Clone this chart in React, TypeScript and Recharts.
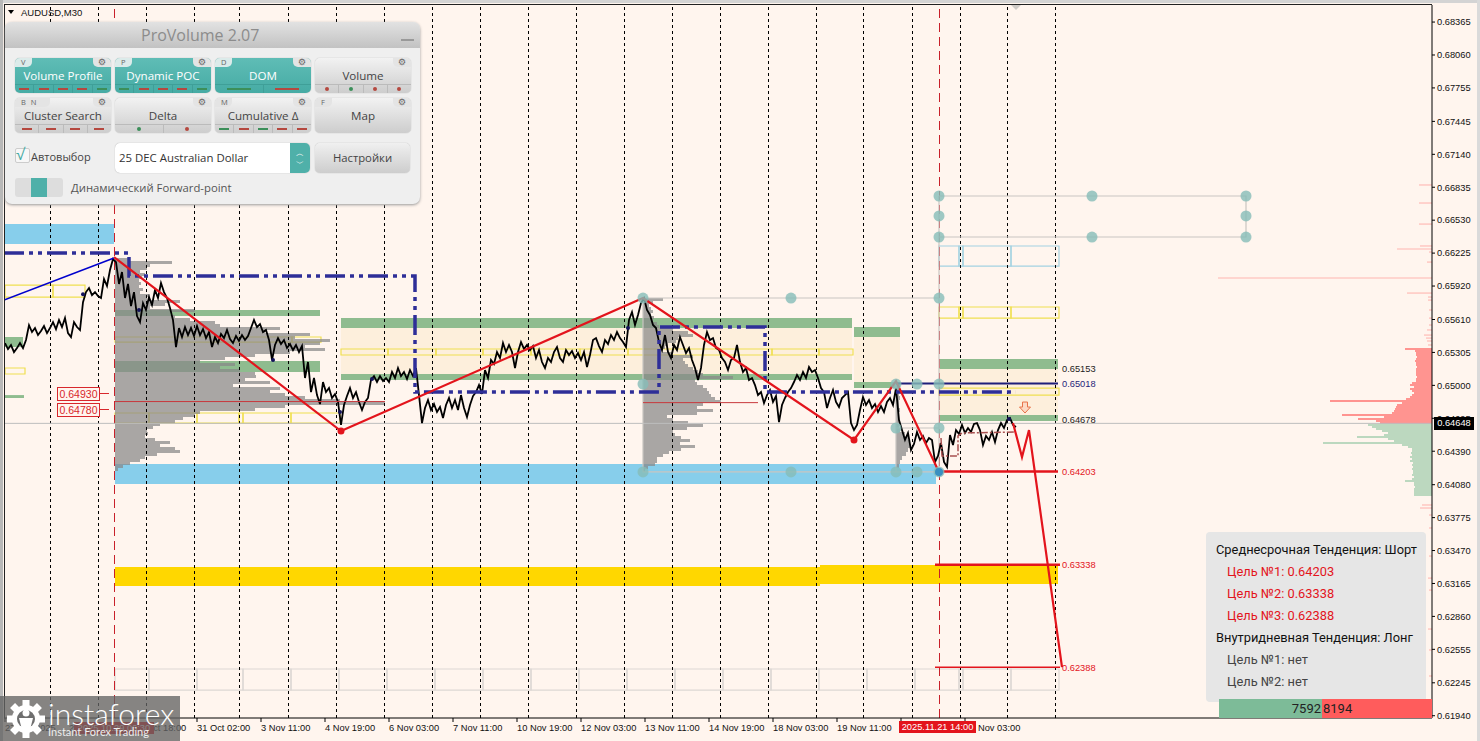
import React from "react";
import { ComposedChart, Line, XAxis, YAxis, ReferenceArea, ReferenceLine, ReferenceDot } from "recharts";

// everything is in bars (x) and price points, 1 point = 0.00001 (y)
const priceTicks = [68365, 68060, 67755, 67445, 67140, 66835, 66530, 66225, 65920, 65610, 65305, 65000, 64695, 64390, 64080, 63775, 63470, 63165, 62860, 62555, 62245, 61940];
const timeBars = [5, 69, 133, 197, 261, 325, 389, 453, 517, 581, 645, 709, 773, 837, 901, 965];
const timeLabels = ["27 Oct 2025", "28 Oct 10:00", "29 Oct 18:00", "31 Oct 02:00", "3 Nov 11:00", "4 Nov 19:00", "6 Nov 03:00", "7 Nov 11:00", "10 Nov 19:00", "12 Nov 03:00", "13 Nov 11:00", "14 Nov 19:00", "18 Nov 03:00", "19 Nov 11:00", "20 Nov 19:00", "24 Nov 03:00"];
const sessionBars = [50, 98, 146, 194, 239, 288, 336, 384, 432, 480, 528, 576, 624, 672, 720, 768, 816, 863, 912, 960, 1007, 1055];
const anchorBars = [114, 939];

// M30 closes, one value every 3 bars from bar 5
const closes = [
  65392, 65336, 65373, 65308, 65345, 65392, 65345, 65420, 65558, 65494, 65531, 65466, 65503, 65549, 65484, 65531,
  65586, 65521, 65605, 65540, 65623, 65484, 65447, 65586, 65540, 65512, 65771, 65864, 65901, 65836, 65864, 65827,
  65809, 65985, 65920, 66068, 66170, 66142, 65939, 66050, 65809, 65939, 65735, 65864, 65642, 65586, 65762, 65698,
  65818, 65744, 65883, 65809, 65948, 65864, 65809, 65716, 65605, 65355, 65531, 65448, 65540, 65466, 65531, 65457,
  65550, 65466, 65522, 65438, 65494, 65355, 65448, 65392, 65476, 65438, 65513, 65429, 65392, 65457, 65411, 65466,
  65420, 65457, 65531, 65605, 65540, 65568, 65494, 65513, 65420, 65235, 65374, 65438, 65383, 65420, 65346, 65383,
  65327, 65374, 65309, 65364, 65068, 65216, 64938, 65068, 64910, 64827, 65031, 64938, 64975, 64883, 64920, 64846,
  64633, 64818, 64901, 64975, 64883, 64938, 64846, 64772, 64846, 64883, 65050, 65086, 65031, 65086, 65040, 65068,
  65031, 65124, 65068, 65161, 65086, 65124, 65059, 65142, 65086, 65161, 64910, 64651, 64790, 64864, 64772, 64827,
  64753, 64799, 64697, 64818, 64883, 64790, 64864, 64772, 64910, 64790, 64707, 64818, 64901, 64938, 65003, 64920,
  65142, 65068, 65235, 65198, 65309, 65253, 65392, 65309, 65374, 65309, 65161, 65309, 65401, 65337, 65374, 65327,
  65364, 65253, 65327, 65216, 65161, 65253, 65216, 65309, 65355, 65253, 65216, 65327, 65281, 65318, 65253, 65299,
  65235, 65309, 65170, 65281, 65420, 65438, 65364, 65309, 65420, 65383, 65466, 65420, 65494, 65438, 65401, 65355,
  65605, 65679, 65559, 65652, 65763, 65809, 65698, 65652, 65559, 65531, 65401, 65327, 65466, 65309, 65253, 65374,
  65327, 65448, 65374, 65299, 65346, 65235, 65161, 65050, 65161, 65374, 65494, 65420, 65438, 65346, 65327, 65253,
  65216, 65142, 65235, 65253, 65374, 65216, 65124, 65161, 65050, 65068, 65003, 64910, 64938, 64836, 64910, 64957,
  64846, 64901, 64660, 64818, 64883, 64938, 64975, 65031, 65096, 65050, 65124, 65068, 65170, 65124, 65142, 65068,
  64975, 64938, 64790, 64883, 64957, 64846, 64799, 64883, 64910, 64938, 64651, 64586, 64633, 64772, 64892, 64818,
  64864, 64790, 64827, 64753, 64809, 64753, 64846, 64883, 64818, 64975, 64679, 64586, 64494, 64559, 64401, 64457,
  64568, 64494, 64531, 64466, 64512, 64494, 64290, 64346, 64466, 64290, 64244, 64540, 64447, 64586, 64549, 64633,
  64559, 64605, 64568, 64642, 64651, 64586, 64447, 64531, 64494, 64568, 64475, 64586, 64651, 64605, 64679, 64697, 64633, 64614,
];

const zigzag = [[114, 66188], [341, 64577], [643, 65809], [854, 64494], [896, 65040], [939, 64198]];
const forecast = [[1013, 64651], [1022, 64336], [1029, 64586], [1062, 62391]];
const trendLine = [[4, 65790], [114, 66180]];
const pocPath = [[4, 66226], [129, 66226], [129, 66013], [415, 66013], [415, 64938], [659, 64938], [659, 65540], [765, 65540], [765, 64938], [1016, 64938]];
const intradayPath = [[941, 64512], [942, 64345], [958, 64345], [958, 64531], [962, 64559], [1015, 64568]];

const guideSets = [
  [[939, 66754], [1246, 66754], [1246, 66374], [939, 66374]],
  [[939, 66754], [939, 64198]],
  [[643, 65809], [939, 65809]],
  [[643, 65809], [643, 64198], [939, 64198]],
  [[896, 65012], [896, 64198]],
  [[896, 64605], [939, 64605]],
];
const guideDots = [[939, 66754], [1092, 66754], [1246, 66754], [939, 66569], [1246, 66569], [939, 66374], [1092, 66374], [1246, 66374], [643, 65809], [791, 65809], [939, 65809], [643, 65012], [896, 65012], [917, 65012], [939, 65012], [896, 64605], [939, 64605], [643, 64198], [791, 64198], [896, 64198], [917, 64198], [939, 64198]];
const swingDots = [[83, 65845], [139, 65698], [273, 65235], [340, 64753], [372, 65059], [628, 65531], [1009, 64688]];
const pivotDots = [[341, 64577], [854, 64494]];

// bar1, bar2, price top, price bottom
const blueZones = [[4, 114, 66494, 66309], [115, 936, 64271, 64086]];
const goldZones = [[115, 820, 63317, 63141], [820, 1058, 63336, 63160]];
const greenZones = [[115, 320, 65698, 65642], [115, 320, 65225, 65124], [5, 23, 65448, 65355], [5, 24, 64910, 64883], [341, 852, 65623, 65531], [341, 852, 65105, 65050], [854, 900, 65540, 65448], [854, 900, 65031, 64975], [939, 1058, 65244, 65151], [939, 1058, 64725, 64670]];
const tanZones = [[341, 852, 65531, 65105], [854, 900, 65448, 65031], [939, 1058, 65151, 64725]];

// outlined box rows: divider bars, then price top/bottom
const greyRowBars = [115, 149, 197, 243, 291, 339, 387, 435, 483, 531, 579, 627, 675, 723, 771, 819, 867, 915, 959, 963, 1011, 1059];
const greyRowPrices = [62373, 62178];
const blueRowBars = [939, 959, 963, 1011, 1059];
const blueRowPrices = [66291, 66105];
const yellowTopBars = [939, 959, 963, 1011, 1059];
const yellowTopPrices = [65726, 65623];
const yellowMidBars = [341, 388, 436, 483, 531, 580, 628, 772, 819, 853];
const yellowMidPrices = [65337, 65281];
const yellowLowBars = [115, 149, 197, 239, 243, 291, 340];
const yellowLowPrices = [64744, 64651];
const yellowLeftBars = [5, 53, 85];
const yellowLeftPrices = [65929, 65818];
const yellowStubBars = [5, 25];
const yellowStubPrices = [65161, 65105];
const yellowUpperBars = [115, 292, 321];
const yellowUpperPrices = [65448, 65401];
const yellowRightBars = [939, 1059];
const yellowRightPrices = [64975, 64910];

// horizontal volume profiles, widths in bars, listed from the top row down
const profileOneVol = [15, 57, 35, 32, 25, 30, 27, 24, 26, 24, 28, 25, 35, 32, 65, 50, 35, 80, 55, 60, 75, 100, 105, 165, 150, 195, 180, 215, 205, 190, 210, 175, 140, 110, 85, 120, 105, 125, 140, 141, 130, 155, 118, 165, 155, 170, 190, 225, 270, 170, 140, 85, 80, 68, 60, 45, 38, 32, 33, 30, 40, 55, 45, 60, 65, 42, 30, 25, 15, 8, 3];
const profileTwoVol = [20, 10, 6, 8, 10, 8, 11, 10, 14, 16, 30, 45, 50, 35, 33, 25, 22, 20, 30, 50, 40, 42, 45, 50, 55, 60, 90, 52, 54, 60, 64, 66, 68, 72, 78, 60, 54, 70, 54, 24, 30, 45, 60, 44, 30, 32, 38, 47, 37, 52, 38, 26, 20, 14, 14, 12, 5, 2];
const profileThreeVol = [3, 4, 3, 4, 3, 3, 4, 3, 3, 4, 3, 4, 9, 12, 13, 15, 12, 10, 6, 4, 3];
const domAskVol = [27, 17, 16, 16, 15, 16, 17, 16, 16, 15, 16, 16, 16, 16, 15, 16, 16, 20, 22, 18, 22, 20, 18, 20, 22, 26, 102, 30, 35, 36, 37, 38, 40, 90, 48, 74, 56, 52];
const domBidVol = [64, 60, 56, 50, 44, 48, 75, 44, 38, 109, 30, 24, 20, 20, 21, 20, 22, 20, 22, 19, 20, 19, 20, 19, 19, 20, 18, 20, 27, 18, 18, 17, 18, 18, 18, 18];
const domSpikePrices = [66856, 66689, 66494, 66291, 66263, 66235, 66142, 65994, 65855, 65818, 65790, 65698, 65623, 65559, 65513, 65466, 65438, 65411, 65374, 63892, 63864, 63799, 63679, 63419, 63215, 63104, 62743, 62549, 62308];
const domSpikeVol = [13, 13, 13, 12, 35, 3, 5, 214, 25, 4, 4, 3, 3, 3, 5, 8, 6, 5, 4, 10, 12, 3, 3, 3, 4, 3, 4, 3, 3];

const levelLines = [[939, 1058, 64203, 2.5, "#E3141C"], [935, 1060, 63338, 2.5, "#E3141C"], [935, 1060, 62388, 1.5, "#E3141C"], [896, 1058, 65018, 2, "#1F1F7A"], [115, 385, 64850, 1, "#C8383C"], [643, 758, 64840, 1, "#C8383C"]];
const levelTags = [[65153, "#222222"], [65018, "#1F1F7A"], [64678, "#222222"], [64203, "#E3141C"], [63338, "#E3141C"], [62388, "#E3141C"]];

const buttonNames = ["Volume Profile", "Dynamic POC", "DOM", "Volume", "Cluster Search", "Delta", "Cumulative Δ", "Map"];
const buttonKeys = ["V", "P", "D", "", "B N", "", "M", "F"];
const buttonMarks = ["rrrrg", "grrrg", "gr", ".r.g.r.r", "rrrr", ".g.r", "grgrr", ""];
const goalLines = ["Цель №1: 0.64203", "Цель №2: 0.63338", "Цель №3: 0.62388"];
const noGoalLines = ["Цель №1: нет", "Цель №2: нет"];

const chartFont = "'Liberation Sans', Arial, sans-serif";
const uiFont = "'Open Sans', sans-serif";
const boxFont = "Roboto, sans-serif";
const toPts = (list: number[][]) => list.map(([x, p]) => ({ x, p }));
const closeData = closes.map((p, i) => ({ x: 5 + i * 3, p }));

function zone(list: number[][], fill: string, name: string) {
  return list.map((z, i) => (
    <ReferenceArea key={name + i} x1={z[0]} x2={z[1]} y1={z[2]} y2={z[3]} fill={fill} fillOpacity={1} stroke="none" />
  ));
}

function boxRow(bars: number[], prices: number[], color: string, name: string) {
  return bars.slice(0, -1).map((b, i) => (
    <ReferenceArea key={name + i} x1={b} x2={bars[i + 1]} y1={prices[0]} y2={prices[1]} fill="none" fillOpacity={0} stroke={color} strokeWidth={1.2} />
  ));
}

function profile(vols: number[], start: number, top: number, step: number, fill: string, name: string, opacity = 1) {
  return vols.map((v, i) => (
    <ReferenceArea key={name + i} x1={start} x2={start + v} y1={top - i * step} y2={top - (i + 1) * step} fill={fill} fillOpacity={opacity} stroke="none" shapeRendering="crispEdges" />
  ));
}

function dom(vols: number[], top: number, step: number, fill: string, name: string) {
  return vols.map((v, i) => (
    <ReferenceArea key={name + i} x1={1432 - v} x2={1432} y1={top - i * step} y2={top - (i + 1) * step} fill={fill} fillOpacity={1} stroke="none" shapeRendering="crispEdges" />
  ));
}

function TimeTick(props: any) {
  const { x, y, payload } = props;
  const label = timeLabels[timeBars.indexOf(payload.value)];
  return (
    <g>
      <line x1={x} x2={x} y1={y - 8} y2={y - 4} stroke="#000" />
      <text x={x} y={y + 5} fontSize={9.3} fontFamily={chartFont} fill="#111">{label}</text>
    </g>
  );
}

function ArrowDown(props: any) {
  const { cx, cy } = props;
  return (
    <path d={`M${cx - 2.5} ${cy - 6} h5 v5 h3 l-5.5 6 l-5.5 -6 h3 z`} fill="#FCD9C4" stroke="#E8734A" strokeWidth={1} />
  );
}

function PanelButton({ index, left, top }: { index: number; left: number; top: number }) {
  const active = index < 3;
  const marks = buttonMarks[index];
  const dots = marks.startsWith(".");
  const items = dots ? marks.split(".").filter(Boolean) : marks.split("");
  const keyWide = buttonKeys[index].length > 1;
  return (
    <div style={{ position: "absolute", left, top, width: 96, height: 35, borderRadius: 5, overflow: "hidden", background: active ? "linear-gradient(#5FBDB6,#46ABA4)" : "linear-gradient(#F2F2F2,#CDCDCD)", boxShadow: "0 0 1px #999" }}>
      {buttonKeys[index] && (
        <div style={{ position: "absolute", left: 0, top: 0, width: keyWide ? 35 : 17, height: 9, background: active ? "#DCEBEA" : "#E4E4E4", borderRadius: "0 0 5px 0", fontSize: 7.5, lineHeight: "9px", color: "#666", paddingLeft: 6, boxSizing: "border-box", fontFamily: uiFont, wordSpacing: 3 }}>{buttonKeys[index]}</div>
      )}
      <div style={{ position: "absolute", right: 0, top: 0, width: 18, height: 9, background: "#E4E4E4", borderRadius: "0 0 0 5px", textAlign: "center", fontFamily: "'DejaVu Sans', sans-serif", fontSize: 9, lineHeight: "9px", color: "#666" }}>⚙</div>
      <div style={{ position: "absolute", left: 0, right: 0, top: 9, textAlign: "center", fontFamily: uiFont, fontSize: 11.6, lineHeight: "17px", color: active ? "#fff" : "#444" }}>{buttonNames[index]}</div>
      {items.length > 0 && (
        <div style={{ position: "absolute", left: 0, right: 0, bottom: 0, height: 8, display: "flex", borderTop: active ? "1px solid #3F9F98" : "1px solid #BBB" }}>
          {items.map((m, i) => (
            <div key={i} style={{ flex: 1, display: "flex", alignItems: "center", justifyContent: "center", borderLeft: i ? (active ? "1px solid #3F9F98" : "1px solid #BBB") : "none" }}>
              <div style={{ width: dots ? 4 : items.length === 2 ? 24 : 10, height: dots ? 4 : 1.5, borderRadius: dots ? 2 : 0, background: m === "g" ? "#3C8F5A" : "#B5483F" }} />
            </div>
          ))}
        </div>
      )}
    </div>
  );
}

function ControlPanel() {
  const lefts = [15, 115, 215, 315];
  return (
    <div style={{ position: "absolute", left: 5, top: 22, width: 415, height: 182, borderRadius: 7, background: "#EFEFEF", boxShadow: "0 1px 3px #999" }}>
      <div style={{ position: "absolute", left: 0, right: 0, top: 0, height: 26, borderRadius: "7px 7px 0 0", background: "linear-gradient(#E2E2E2,#C2C2C2)", fontFamily: uiFont, fontSize: 16, lineHeight: "27px", color: "#8C8C8C", paddingLeft: 136, boxSizing: "border-box" }}>ProVolume 2.07</div>
      <div style={{ position: "absolute", left: 396, top: 17, width: 13, height: 2, background: "#999" }} />
      <div style={{ position: "absolute", left: -5, top: -22 }}>
        {buttonNames.map((n, i) => (
          <PanelButton key={n} index={i} left={lefts[i % 4]} top={i < 4 ? 58 : 98} />
        ))}
        <div style={{ position: "absolute", left: 15, top: 148, width: 13, height: 13, background: "#F7F7F7", border: "1px solid #CCC", borderRadius: 2, color: "#46ABA4", fontSize: 16, lineHeight: "11px", fontFamily: uiFont }}>√</div>
        <div style={{ position: "absolute", left: 31, top: 149, fontFamily: uiFont, fontSize: 11, color: "#444", whiteSpace: "nowrap" }}>Автовыбор</div>
        <div style={{ position: "absolute", left: 115, top: 143, width: 195, height: 30, background: "#fff", borderRadius: 5, overflow: "hidden", boxShadow: "0 0 1px #999" }}>
          <div style={{ position: "absolute", left: 4, top: 7, fontFamily: uiFont, fontSize: 11.4, color: "#333", whiteSpace: "nowrap" }}>25 DEC Australian Dollar</div>
          <div style={{ position: "absolute", right: 0, top: 0, width: 20, height: 30, background: "#4FB0A9", color: "#fff", fontSize: 8, lineHeight: "10px", textAlign: "center", paddingTop: 5, boxSizing: "border-box", fontFamily: uiFont }}>︿<br />﹀</div>
        </div>
        <div style={{ position: "absolute", left: 315, top: 143, width: 95, height: 30, borderRadius: 5, background: "linear-gradient(#F0F0F0,#CDCDCD)", boxShadow: "0 0 1px #999", textAlign: "center", fontFamily: uiFont, fontSize: 11.3, lineHeight: "30px", color: "#444" }}>Настройки</div>
        <div style={{ position: "absolute", left: 15, top: 178, width: 48, height: 19, borderRadius: 3, background: "#DDD", overflow: "hidden" }}>
          <div style={{ position: "absolute", left: 16, top: 0, width: 16, height: 19, background: "#4FB0A9" }} />
        </div>
        <div style={{ position: "absolute", left: 71, top: 180, fontFamily: uiFont, fontSize: 11.3, color: "#555", whiteSpace: "nowrap" }}>Динамический Forward-point</div>
      </div>
    </div>
  );
}

function TrendBox() {
  const row = (text: string, top: number, left: number, color: string) => (
    <div key={text + top} style={{ position: "absolute", left, top, color, fontFamily: boxFont, fontSize: 12.85, lineHeight: "16px", whiteSpace: "nowrap" }}>{text}</div>
  );
  return (
    <div>
      <div style={{ position: "absolute", left: 1206, top: 532, width: 220, height: 170, background: "#E6E6E6", borderRadius: 4 }} />
      {row("Среднесрочная Тенденция: Шорт", 542, 1216, "#111")}
      {goalLines.map((t, i) => row(t, 564 + i * 22, 1227, "#E3141C"))}
      {row("Внутридневная Тенденция: Лонг", 630, 1216, "#111")}
      {noGoalLines.map((t, i) => row(t, 652 + i * 22, 1227, "#444"))}
      <div style={{ position: "absolute", left: 1219, top: 699, width: 103, height: 19, background: "#7DBB98", textAlign: "right", fontFamily: boxFont, fontSize: 13, lineHeight: "20px", color: "#222", paddingRight: 1, boxSizing: "border-box" }}>7592</div>
      <div style={{ position: "absolute", left: 1322, top: 699, width: 110, height: 19, background: "#FF5C5C", fontFamily: boxFont, fontSize: 13, lineHeight: "20px", color: "#222", paddingLeft: 1, boxSizing: "border-box" }}>8194</div>
    </div>
  );
}

function LeftTag({ text, top }: { text: string; top: number }) {
  return (
    <div>
      <div style={{ position: "absolute", left: 57, top, width: 41, height: 12, border: "1px solid #D8272C", color: "#D8272C", fontFamily: chartFont, fontSize: 10.5, lineHeight: "12px", textAlign: "center", background: "#FFF5EE" }}>{text}</div>
      <div style={{ position: "absolute", left: 99, top: top + 6, width: 10, height: 1, background: "#D8272C" }} />
    </div>
  );
}

function Watermark() {
  const teeth = [0, 45, 90, 135];
  return (
    <div style={{ position: "absolute", left: 0, top: 696, width: 180, height: 45, background: "rgba(100,100,100,0.78)" }}>
      <svg width={42} height={42} style={{ position: "absolute", left: 5, top: 2 }}>
        {teeth.map((a) => (
          <rect key={a} x={17.5} y={2} width={7} height={38} fill="#fff" transform={`rotate(${a} 21 21)`} />
        ))}
        <circle cx={21} cy={21} r={14} fill="#fff" />
        <circle cx={21} cy={21} r={9} fill="#6E6E6E" />
        <circle cx={21} cy={15} r={3.5} fill="#fff" />
        <path d="M14 20 L28 20 L24 36 L18 36 Z" fill="#fff" />
      </svg>
      <div style={{ position: "absolute", left: 48, top: -3, fontFamily: "Lato, sans-serif", fontWeight: 300, fontSize: 30, lineHeight: "40px", color: "#fff", whiteSpace: "nowrap" }}>instaforex</div>
      <div style={{ position: "absolute", left: 48, top: 29, fontFamily: "Lato, sans-serif", fontSize: 11, lineHeight: "14px", color: "#EEE", whiteSpace: "nowrap" }}>Instant Forex Trading</div>
    </div>
  );
}

export default function App() {
  return (
    <div style={{ position: "absolute", left: 0, top: 0, width: 1480, height: 741, background: "#FFF5EE", overflow: "hidden" }}>
      <ComposedChart width={1480} height={741} margin={{ top: 5, right: 0, left: 4, bottom: 0 }}>
        <XAxis dataKey="x" type="number" domain={[4, 1432]} ticks={timeBars} interval={0} height={23} tick={TimeTick} tickLine={false} axisLine={{ stroke: "#000" }} allowDataOverflow />
        <YAxis dataKey="p" type="number" orientation="right" domain={[61919, 68523]} ticks={priceTicks} interval={0} width={48} tickSize={3} tickFormatter={(v: number) => (v / 100000).toFixed(5)} tick={{ fontSize: 9.3, fontFamily: chartFont, fill: "#111" }} tickLine={{ stroke: "#000" }} axisLine={{ stroke: "#000" }} allowDataOverflow />

        {zone(tanZones, "#FDEFDC", "tan")}
        {zone(greenZones, "#8FBC8F", "green")}
        {zone(blueZones, "#87CEEB", "blue")}
        {zone(goldZones, "#FFD700", "gold")}

        {boxRow(greyRowBars, greyRowPrices, "#DDD8D4", "grey")}
        {boxRow(blueRowBars, blueRowPrices, "#A4D2E2", "bluebox")}
        {boxRow(yellowTopBars, yellowTopPrices, "#F0DF50", "ytop")}
        {boxRow(yellowMidBars, yellowMidPrices, "#F0DF50", "ymid")}
        {boxRow(yellowLowBars, yellowLowPrices, "#F0DF50", "ylow")}
        {boxRow(yellowLeftBars, yellowLeftPrices, "#F0DF50", "yleft")}
        {boxRow(yellowStubBars, yellowStubPrices, "#F0DF50", "ystub")}
        {boxRow(yellowUpperBars, yellowUpperPrices, "#F0DF50", "yup")}
        {boxRow(yellowRightBars, yellowRightPrices, "#F0DF50", "yright")}

        {dom(domAskVol, 65346.04, 18.5245, "#FF9490", "ask")}
        {dom(domBidVol, 64642.1, 18.5245, "#BCD8BF", "bid")}
        {domSpikePrices.map((p, i) => (
          <ReferenceArea key={"spike" + i} x1={1432 - domSpikeVol[i]} x2={1432} y1={p + 5} y2={p - 5} fill="#FFB5B0" fillOpacity={1} stroke="none" />
        ))}

        {sessionBars.map((b) => (
          <ReferenceLine key={"s" + b} x={b} stroke="#000" strokeDasharray="3 3" strokeWidth={1} shapeRendering="crispEdges" />
        ))}
        {anchorBars.map((b) => (
          <ReferenceLine key={"a" + b} x={b} stroke="#C8202A" strokeDasharray="9 5" strokeWidth={1} shapeRendering="crispEdges" />
        ))}
        <ReferenceLine y={64648} stroke="#BDBDBD" strokeWidth={1} />

        {guideSets.map((g, i) => (
          <Line key={"g" + i} data={toPts(g)} dataKey="p" stroke="#C9C5C1" strokeWidth={1.2} dot={false} isAnimationActive={false} />
        ))}

        <Line data={closeData} dataKey="p" stroke="#000" strokeWidth={1.8} dot={false} isAnimationActive={false} />
        <Line data={toPts(pocPath)} dataKey="p" stroke="#2E2E98" strokeWidth={3.5} strokeDasharray="20 5 4 5 4 5" dot={false} isAnimationActive={false} />
        <Line data={toPts(trendLine)} dataKey="p" stroke="#0000CD" strokeWidth={1.6} dot={false} isAnimationActive={false} />
        <Line data={toPts(intradayPath)} dataKey="p" stroke="#A85050" strokeWidth={1.5} strokeDasharray="7 2 2 2" dot={false} isAnimationActive={false} />

        {profile(profileOneVol, 115, 66179.6, 27.787, "#888888", "p1", 0.72)}
        {profile(profileTwoVol, 643, 65809.15, 27.787, "#888888", "p2", 0.72)}
        {profile(profileThreeVol, 896, 65012.6, 37.05, "#888888", "p3", 0.72)}

        {levelLines.map((l, i) => (
          <Line key={"lv" + i} data={[{ x: l[0], p: l[2] }, { x: l[1], p: l[2] }]} dataKey="p" stroke={l[4] as string} strokeWidth={l[3] as number} dot={false} isAnimationActive={false} />
        ))}
        <Line data={toPts(zigzag)} dataKey="p" stroke="#E3141C" strokeWidth={2.2} dot={false} isAnimationActive={false} />
        <Line data={toPts(forecast)} dataKey="p" stroke="#E3141C" strokeWidth={2.2} dot={false} isAnimationActive={false} />

        {guideDots.map((d, i) => (
          <ReferenceDot key={"gd" + i} x={d[0]} y={d[1]} r={5.5} fill="#86BDB8" fillOpacity={0.8} stroke="none" />
        ))}
        <ReferenceDot x={939} y={64198} r={4} fill="#3A8FC0" stroke="none" />
        {swingDots.map((d, i) => (
          <ReferenceDot key={"sd" + i} x={d[0]} y={d[1]} r={2} fill="#14145A" stroke="none" />
        ))}
        {pivotDots.map((d, i) => (
          <ReferenceDot key={"pd" + i} x={d[0]} y={d[1]} r={3.5} fill="#E3141C" stroke="none" />
        ))}
        <ReferenceDot x={1025} y={64790} shape={ArrowDown} />
        {levelTags.map((t) => (
          <ReferenceDot key={"tag" + t[0]} x={1062} y={t[0] as number} r={0} stroke="none" label={{ value: ((t[0] as number) / 100000).toFixed(5), position: "right", fill: t[1] as string, fontSize: 9.3, fontFamily: chartFont, offset: 0 }} />
        ))}
      </ComposedChart>

      {/* window frame */}
      <div style={{ position: "absolute", left: 0, top: 0, width: 1480, height: 3, background: "#D4D4D4" }} />
      <div style={{ position: "absolute", left: 0, top: 0, width: 3, height: 741, background: "#B8B8B8" }} />
      <div style={{ position: "absolute", left: 1477, top: 0, width: 3, height: 741, background: "#DADADA" }} />
      <div style={{ position: "absolute", left: 4, top: 4, width: 1428, height: 1, background: "#222" }} />
      <div style={{ position: "absolute", left: 4, top: 4, width: 1, height: 714, background: "#222" }} />

      <div style={{ position: "absolute", left: 8, top: 10, width: 0, height: 0, borderLeft: "3px solid transparent", borderRight: "3px solid transparent", borderTop: "4px solid #000" }} />
      <div style={{ position: "absolute", left: 21, top: 7, fontFamily: chartFont, fontSize: 9.5, lineHeight: "11px", color: "#111" }}>AUDUSD,M30</div>
      <div style={{ position: "absolute", left: 1011, top: 5, width: 0, height: 0, borderLeft: "5px solid transparent", borderRight: "5px solid transparent", borderTop: "5px solid #CFCBC7" }} />

      <LeftTag text="0.64930" top={387} />
      <LeftTag text="0.64780" top={403} />

      <div style={{ position: "absolute", left: 74, top: 722, width: 80, height: 12, background: "#E3141C", color: "#fff", fontFamily: chartFont, fontSize: 9.3, lineHeight: "12px", textAlign: "center" }}>2025.10.29 06:30</div>
      <div style={{ position: "absolute", left: 899, top: 721, width: 77, height: 12, background: "#E3141C", color: "#fff", fontFamily: chartFont, fontSize: 9.3, lineHeight: "12px", textAlign: "center" }}>2025.11.21 14:00</div>

      <div style={{ position: "absolute", left: 1434, top: 417, width: 40, height: 13, background: "#000", color: "#fff", fontFamily: chartFont, fontSize: 9.3, lineHeight: "13px", textAlign: "center" }}>0.64648</div>

      <ControlPanel />
      <TrendBox />
      <Watermark />
    </div>
  );
}
